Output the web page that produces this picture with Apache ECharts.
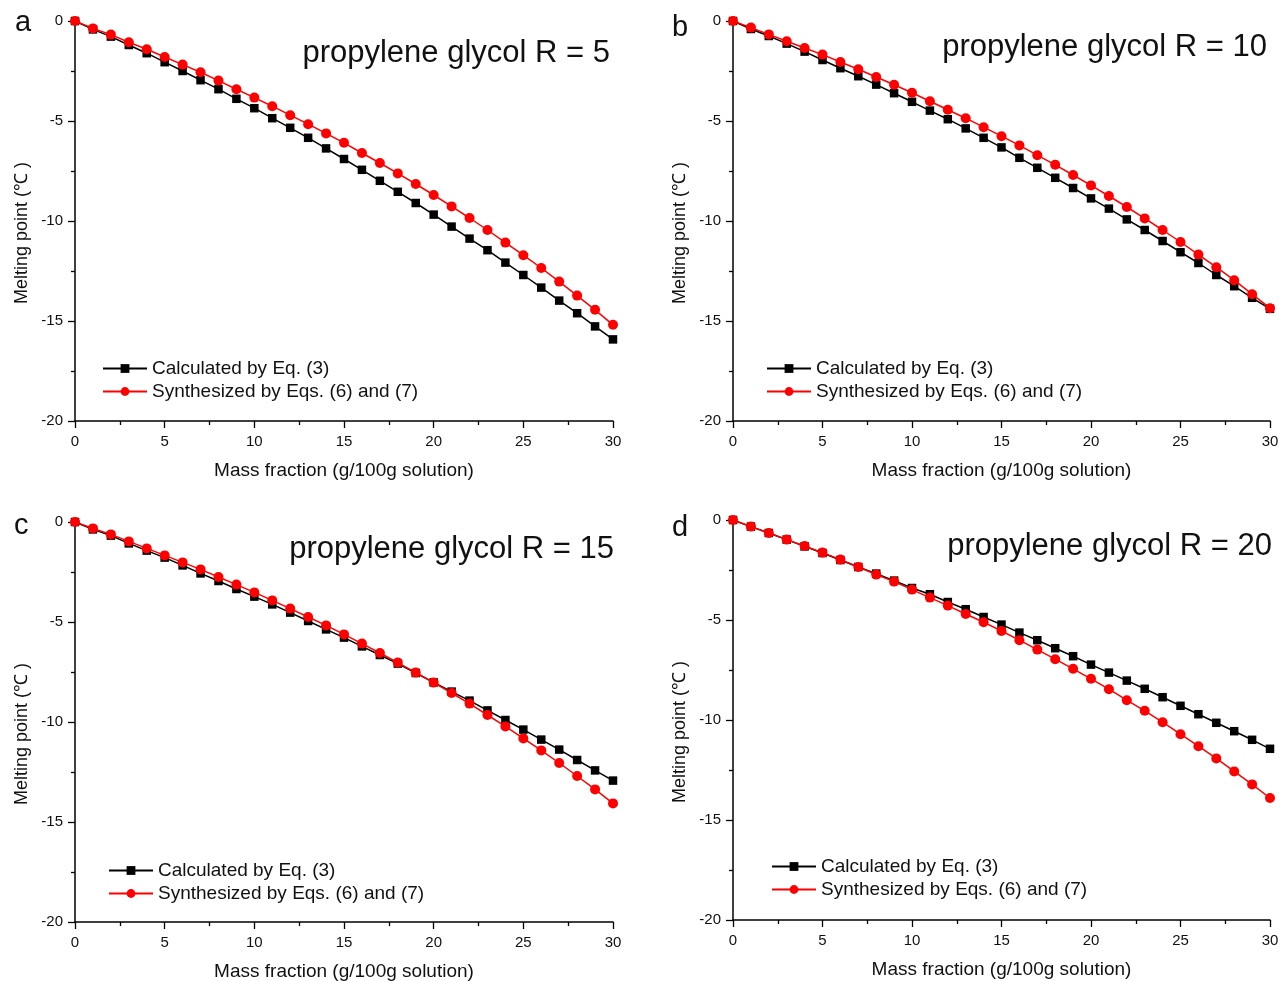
<!DOCTYPE html>
<html>
<head>
<meta charset="utf-8">
<script src="https://cdn.jsdelivr.net/npm/echarts@6/dist/echarts.min.js"></script>
<style>
html,body{margin:0;padding:0;background:#fff;}
#chart{width:1281px;height:981px;}
</style>
</head>
<body>
<div id="chart"></div>
<script>
// Mass fraction (g/100g solution)
const massFraction = [0,1,2,3,4,5,6,7,8,9,10,11,12,13,14,15,16,17,18,19,20,21,22,23,24,25,26,27,28,29,30];

const seriesNames = ['Calculated by Eq. (3)', 'Synthesized by Eqs. (6) and (7)'];
const panelLetters = ['a', 'b', 'c', 'd'];
const panelTitles = ['propylene glycol R = 5', 'propylene glycol R = 10', 'propylene glycol R = 15', 'propylene glycol R = 20'];
const xTicks = [0, 5, 10, 15, 20, 25, 30];
const yTicks = [0, -5, -10, -15, -20];

// Panel a (R = 5)
const calcR5 = [0,-0.42,-0.78,-1.20,-1.61,-2.06,-2.50,-2.96,-3.41,-3.89,-4.36,-4.86,-5.34,-5.84,-6.37,-6.90,-7.44,-7.99,-8.54,-9.10,-9.68,-10.28,-10.88,-11.46,-12.08,-12.70,-13.33,-13.98,-14.61,-15.27,-15.92];
const synR5  = [0,-0.37,-0.68,-1.06,-1.41,-1.80,-2.18,-2.56,-2.98,-3.41,-3.83,-4.26,-4.71,-5.16,-5.62,-6.09,-6.60,-7.10,-7.62,-8.15,-8.70,-9.27,-9.85,-10.45,-11.08,-11.71,-12.35,-13.03,-13.73,-14.44,-15.19];
// Panel b (R = 10)
const calcR10 = [0,-0.40,-0.75,-1.13,-1.53,-1.95,-2.36,-2.76,-3.18,-3.61,-4.04,-4.48,-4.91,-5.37,-5.84,-6.32,-6.84,-7.34,-7.84,-8.35,-8.87,-9.38,-9.92,-10.45,-11.00,-11.56,-12.10,-12.70,-13.26,-13.84,-14.39];
const synR10  = [0,-0.33,-0.67,-1.01,-1.35,-1.68,-2.05,-2.41,-2.80,-3.19,-3.59,-4.01,-4.44,-4.86,-5.31,-5.76,-6.22,-6.71,-7.19,-7.70,-8.22,-8.75,-9.30,-9.87,-10.45,-11.05,-11.68,-12.31,-12.96,-13.66,-14.36];
// Panel c (R = 15)
const calcR15 = [0,-0.37,-0.68,-1.07,-1.43,-1.78,-2.17,-2.57,-2.95,-3.35,-3.73,-4.12,-4.53,-4.95,-5.37,-5.78,-6.22,-6.65,-7.08,-7.55,-8.02,-8.48,-8.93,-9.42,-9.90,-10.38,-10.88,-11.38,-11.90,-12.42,-12.93];
const synR15  = [0,-0.32,-0.62,-0.97,-1.32,-1.67,-2.02,-2.37,-2.75,-3.13,-3.52,-3.92,-4.33,-4.75,-5.17,-5.62,-6.08,-6.55,-7.03,-7.53,-8.03,-8.55,-9.08,-9.65,-10.22,-10.82,-11.42,-12.05,-12.70,-13.37,-14.07];
// Panel d (R = 20)
const calcR20 = [0,-0.33,-0.65,-0.98,-1.32,-1.65,-2.00,-2.35,-2.68,-3.03,-3.40,-3.71,-4.10,-4.46,-4.85,-5.23,-5.63,-6.01,-6.41,-6.81,-7.23,-7.63,-8.03,-8.44,-8.86,-9.29,-9.71,-10.14,-10.56,-10.99,-11.44];
const synR20  = [0,-0.33,-0.65,-0.98,-1.30,-1.63,-1.98,-2.35,-2.73,-3.08,-3.48,-3.88,-4.28,-4.70,-5.11,-5.55,-6.01,-6.48,-6.96,-7.44,-7.94,-8.46,-9.01,-9.54,-10.11,-10.71,-11.31,-11.92,-12.57,-13.22,-13.90];

const calcSets = [calcR5, calcR10, calcR15, calcR20];
const synSets = [synR5, synR10, synR15, synR20];

// layout
const FONT = '"Liberation Sans", Arial, sans-serif';
const grids = [
  {left: 75, top: 21, width: 538, height: 400},
  {left: 733, top: 21, width: 537, height: 400},
  {left: 75, top: 522, width: 538, height: 400},
  {left: 733, top: 520, width: 537, height: 400}
];
const legendPos = [
  {left: 102, top: 359},
  {left: 766, top: 359},
  {left: 108, top: 861},
  {left: 771, top: 857}
];
const titlePos = [
  {right: 671, top: 38},
  {right: 14, top: 32},
  {right: 667, top: 534},
  {right: 9, top: 531}
];
const letterPos = [
  {left: 15, top: 8},
  {left: 672, top: 13},
  {left: 14, top: 511},
  {left: 672, top: 513}
];

const toPairs = (xs, ys) => xs.map((x, i) => [x, ys[i]]);

const option = {
  backgroundColor: '#fff',
  animation: false,
  textStyle: {fontFamily: FONT},
  grid: grids.map(g => Object.assign({containLabel: false, outerBoundsMode: 'none'}, g)),
  title: [],
  legend: [],
  xAxis: [],
  yAxis: [],
  series: []
};

for (let i = 0; i < 4; i++) {
  option.title.push({
    text: panelTitles[i], right: titlePos[i].right, top: titlePos[i].top, padding: 0,
    textStyle: {fontSize: 31, fontWeight: 'normal', color: '#111', fontFamily: FONT}
  });
  option.title.push({
    text: panelLetters[i], left: letterPos[i].left, top: letterPos[i].top, padding: 0,
    textStyle: {fontSize: 29, fontWeight: 'normal', color: '#111', fontFamily: FONT}
  });
  option.legend.push({
    data: seriesNames, orient: 'vertical', left: legendPos[i].left, top: legendPos[i].top,
    padding: 0, itemGap: 4, itemWidth: 44, itemHeight: 11, selectedMode: false,
    textStyle: {fontSize: 19, color: '#111', fontFamily: FONT}
  });
  option.xAxis.push({
    type: 'value', gridIndex: i, min: xTicks[0], max: xTicks[xTicks.length - 1], interval: 5,
    name: 'Mass fraction (g/100g solution)', nameLocation: 'middle', nameGap: 40,
    nameTextStyle: {fontSize: 19, color: '#111', fontFamily: FONT},
    axisLine: {show: true, onZero: false, lineStyle: {color: '#000', width: 1.5}},
    axisTick: {show: true, inside: false, length: 7, lineStyle: {color: '#000', width: 1.3}},
    minorTick: {show: true, splitNumber: 2, length: 4, lineStyle: {color: '#000', width: 1.3}},
    axisLabel: {fontSize: 15, color: '#111', margin: 13, fontFamily: FONT},
    splitLine: {show: false}
  });
  option.yAxis.push({
    type: 'value', gridIndex: i, min: yTicks[yTicks.length - 1], max: yTicks[0], interval: 5,
    name: 'Melting point (℃ )', nameLocation: 'middle', nameGap: 44, nameRotate: 90,
    nameTextStyle: {fontSize: 18, color: '#111', fontFamily: FONT, padding: [0, 24, 0, 0]},
    axisLine: {show: true, onZero: false, lineStyle: {color: '#000', width: 1.5}},
    axisTick: {show: true, inside: false, length: 7, lineStyle: {color: '#000', width: 1.3}},
    minorTick: {show: true, splitNumber: 2, length: 4, lineStyle: {color: '#000', width: 1.3}},
    axisLabel: {fontSize: 15, color: '#111', margin: 12, fontFamily: FONT},
    splitLine: {show: false}
  });
  option.series.push({
    name: seriesNames[0], type: 'line', xAxisIndex: i, yAxisIndex: i,
    data: toPairs(massFraction, calcSets[i]),
    symbol: 'rect', symbolSize: 8.5, showAllSymbol: true,
    lineStyle: {color: '#000', width: 1.5}, itemStyle: {color: '#000'},
    z: 2
  });
  option.series.push({
    name: seriesNames[1], type: 'line', xAxisIndex: i, yAxisIndex: i,
    data: toPairs(massFraction, synSets[i]),
    symbol: 'circle', symbolSize: 10, showAllSymbol: true,
    lineStyle: {color: '#ff0000', width: 1.5}, itemStyle: {color: '#ff0000'},
    z: 3
  });
}

const chart = echarts.init(document.getElementById('chart'), null, {renderer: 'canvas'});
chart.setOption(option);
</script>
</body>
</html>
